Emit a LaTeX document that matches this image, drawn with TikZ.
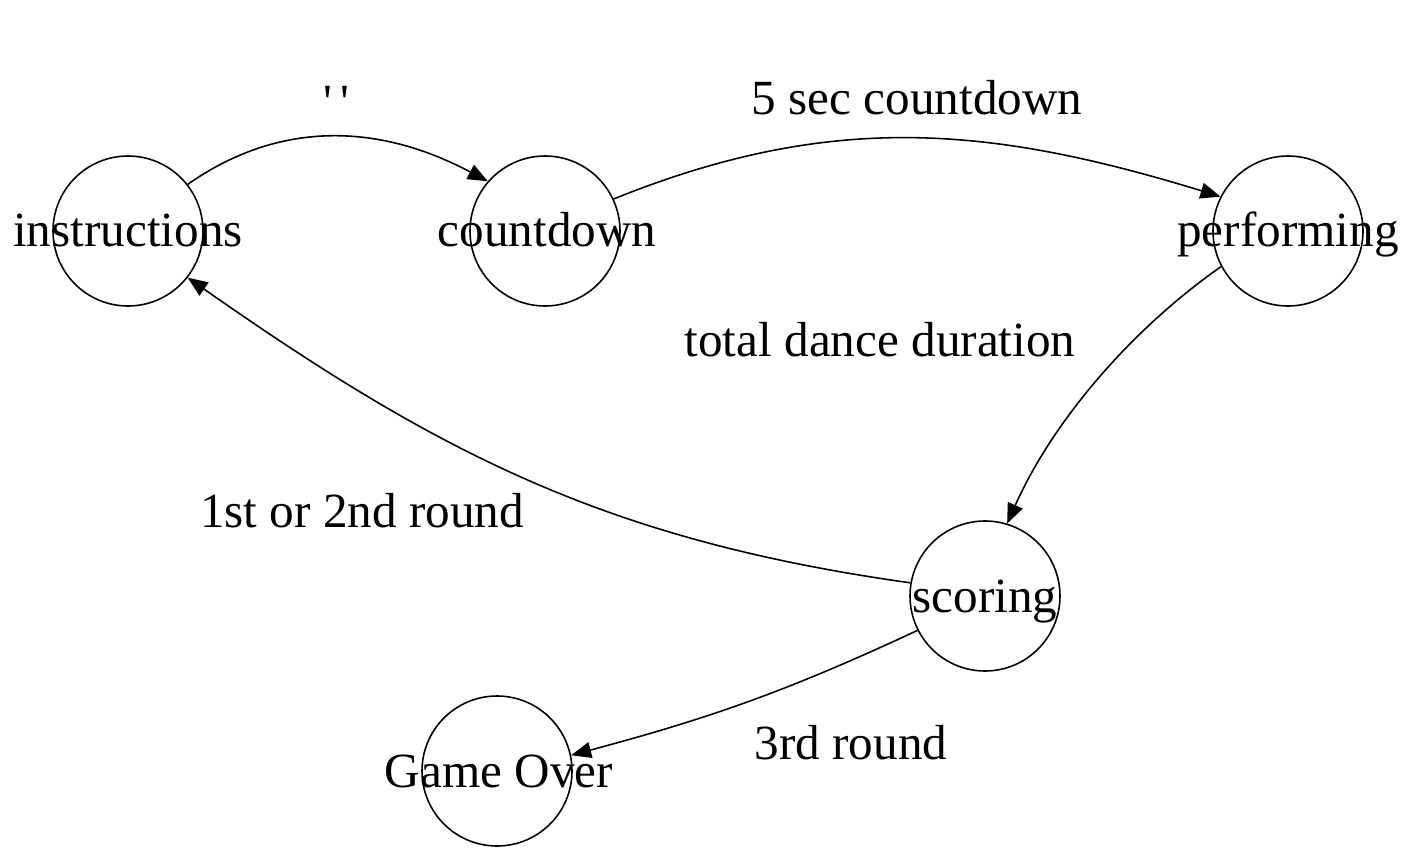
\documentclass[tikz,border=0pt]{standalone}
\usepackage{fontspec}
\setmainfont{Liberation Serif}
\usetikzlibrary{arrows.meta}
\begin{document}
\begin{tikzpicture}[x=0.02cm,y=-0.02cm,
  state/.style={draw,circle,minimum size=150*0.02cm,inner sep=0pt,line width=0.9pt},
  lbl/.style={font=\fontsize{28}{34}\selectfont,anchor=base,inner sep=0pt},
  edge/.style={draw,line width=0.9pt,-{Triangle[length=0.4cm,width=0.32cm]}}]
\useasboundingbox[fill=white] (0,0) rectangle (1420,861);
\node[state] (ins) at (128,231) {};
\node[state] (cd) at (545,231) {};
\node[state] (perf) at (1288,231) {};
\node[state] (sc) at (985,596) {};
\node[state] (go) at (497,771) {};
\node[lbl] (tins) at (128,247) {instructions};
\node[lbl] (tcd) at (547,247) {countdown};
\node[lbl] (tperf) at (1288,247) {performing};
\node[lbl] (tsc) at (985,612) {scoring};
\node[lbl] (tgo) at (499,787) {Game Over};
\draw[edge] (ins.38) to[out=35,in=152] (cd.139);
\draw[edge] (cd.25) to[out=22,in=163] (perf.153);
\draw[edge] (perf.208) to[out=215,in=66,looseness=0.85] (sc.73);
\draw[edge] (sc.170) to[out=172,in=-35] (ins.-38);
\draw[edge] (sc.207) to[out=205,in=15] (go.12);
\node[lbl] (l1) at (336,119) {\textquotesingle\,\textquotesingle};
\node[lbl] (l2) at (917,115) {5 sec countdown};
\node[lbl] (l3) at (880,357) {total dance duration};
\node[lbl] (l4) at (362,527) {1st or 2nd round};
\node[lbl] (l5) at (851,759) {3rd round};
\end{tikzpicture}
\end{document}
